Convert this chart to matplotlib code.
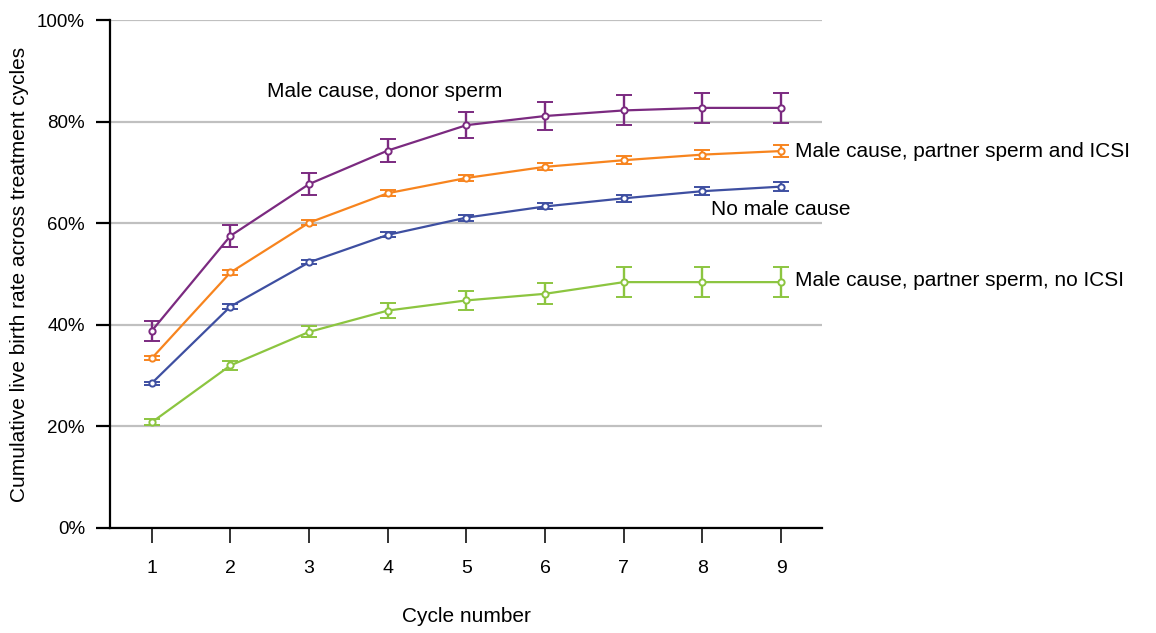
import matplotlib.pyplot as plt
from matplotlib.ticker import PercentFormatter

plt.rcParams['font.family'] = ['Liberation Sans', 'DejaVu Sans']

cycles = [1, 2, 3, 4, 5, 6, 7, 8, 9]

# cumulative live birth rate (%) and half-width of error bars
donor = [38.8, 57.5, 67.7, 74.3, 79.3, 81.1, 82.2, 82.7, 82.7]
donor_err = [2.0, 2.1, 2.2, 2.3, 2.5, 2.7, 2.95, 2.9, 2.9]

icsi = [33.4, 50.3, 60.1, 65.9, 68.9, 71.1, 72.4, 73.5, 74.2]
icsi_err = [0.4, 0.5, 0.5, 0.6, 0.6, 0.7, 0.8, 0.9, 1.1]

no_male = [28.5, 43.6, 52.3, 57.7, 61.1, 63.3, 64.9, 66.3, 67.2]
no_male_err = [0.3, 0.4, 0.4, 0.5, 0.6, 0.6, 0.7, 0.8, 0.9]

no_icsi = [20.8, 32.0, 38.6, 42.8, 44.8, 46.1, 48.4, 48.4, 48.4]
no_icsi_err = [0.6, 0.9, 1.1, 1.5, 1.8, 2.1, 2.9, 2.9, 2.9]

series = [
    (donor, donor_err, "#7B2A80"),
    (icsi, icsi_err, "#F7841E"),
    (no_male, no_male_err, "#3E4FA1"),
    (no_icsi, no_icsi_err, "#8CC540"),
]

fig = plt.figure(figsize=(11.56, 6.33), dpi=100)
ax = fig.add_axes([0.0952, 0.1659, 0.6159, 0.8025])

for y, err, col in series:
    ax.errorbar(cycles, y, yerr=err, color=col, lw=1.6, marker="o", ms=4.5,
                mfc="white", mec=col, mew=1.4, capsize=6, capthick=1.7,
                elinewidth=1.7, zorder=3)

ax.set_xlim(0.47, 9.52)
ax.set_ylim(0, 100)
ax.set_yticks([0, 20, 40, 60, 80, 100])
ax.yaxis.set_major_formatter(PercentFormatter(decimals=0))
ax.set_xticks(cycles)
ax.grid(axis="y", color="#C0C0C0", lw=1.6, zorder=0)
ax.set_axisbelow(True)

for s in ["top", "right"]:
    ax.spines[s].set_visible(False)
ax.spines["left"].set_linewidth(1.6)
ax.spines["bottom"].set_linewidth(1.6)
ax.tick_params(axis="y", length=10, width=1.6, labelsize=13.5, pad=8)
ax.tick_params(axis="x", length=11, width=1.4, color="#333333", labelsize=14, pad=12)

ax.set_xlabel("Cycle number", fontsize=15, labelpad=22)
ax.set_ylabel("Cumulative live birth rate across treatment cycles", fontsize=15, labelpad=6)

# series labels
ax.text(2.47, 86.0, "Male cause, donor sperm", fontsize=15, va="center")
ax.text(9.18, 74.1, "Male cause, partner sperm and ICSI", fontsize=15, va="center")
ax.text(8.11, 62.6, "No male cause", fontsize=15, va="center")
ax.text(9.18, 48.8, "Male cause, partner sperm, no ICSI", fontsize=15, va="center")

fig.savefig("out.png")
